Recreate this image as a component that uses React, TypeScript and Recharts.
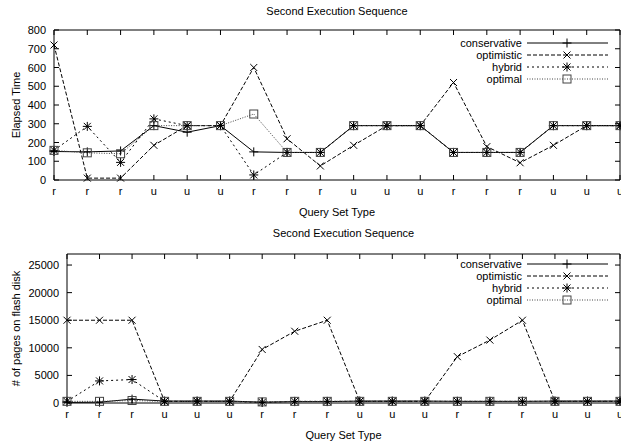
import { LineChart, Line, XAxis, YAxis, ReferenceArea, Label } from 'recharts';

const categories = ['r', 'r', 'r', 'u', 'u', 'u', 'r', 'r', 'r', 'u', 'u', 'u', 'r', 'r', 'r', 'u', 'u', 'u'];
const seriesNames = ['conservative', 'optimistic', 'hybrid', 'optimal'];

// elapsed time
const timeConservative = [152, 150, 155, 290, 255, 290, 150, 147, 147, 290, 290, 290, 147, 147, 147, 290, 290, 290];
const timeOptimistic = [720, 10, 10, 185, 290, 290, 600, 220, 75, 185, 290, 290, 520, 178, 92, 185, 290, 290];
const timeHybrid = [158, 286, 94, 326, 290, 290, 27, 147, 147, 290, 290, 290, 147, 147, 147, 290, 290, 290];
const timeOptimal = [158, 145, 140, 290, 290, 290, 352, 147, 147, 290, 290, 290, 147, 147, 147, 290, 290, 290];
const timeTicks = [0, 100, 200, 300, 400, 500, 600, 700, 800];

// pages on flash disk
const pagesConservative = [100, 150, 700, 350, 350, 350, 150, 250, 250, 350, 350, 350, 300, 300, 300, 350, 350, 350];
const pagesOptimistic = [15000, 15000, 15000, 300, 300, 300, 9700, 13000, 15000, 300, 300, 300, 8400, 11400, 15000, 300, 300, 300];
const pagesHybrid = [300, 4000, 4250, 300, 300, 300, 100, 300, 300, 300, 300, 300, 300, 300, 300, 300, 300, 300];
const pagesOptimal = [300, 300, 450, 300, 300, 300, 200, 300, 300, 300, 300, 300, 300, 300, 300, 300, 300, 300];
const pagesTicks = [0, 5000, 10000, 15000, 20000, 25000];

const FONT = '"Liberation Sans", Arial, Helvetica, sans-serif';
const DASHES = [undefined, '4 2', '2 3', '1 1.5'];
const STROKES = ['#000', '#000', '#000', '#444'];

const build = (cols: number[][]) =>
  categories.map((c, i) => ({
    i,
    conservative: cols[0][i],
    optimistic: cols[1][i],
    hybrid: cols[2][i],
    optimal: cols[3][i],
  }));

const topData = build([timeConservative, timeOptimistic, timeHybrid, timeOptimal]);
const bottomData = build([pagesConservative, pagesOptimistic, pagesHybrid, pagesOptimal]);

const Glyph = ({ kind, cx, cy, color = '#000' }: { kind: number; cx: number; cy: number; color?: string }) => {
  const a = 4.5;
  const b = 3.5;
  const plus = (
    <>
      <line x1={cx - a} y1={cy} x2={cx + a} y2={cy} stroke={color} />
      <line x1={cx} y1={cy - a} x2={cx} y2={cy + a} stroke={color} />
    </>
  );
  const cross = (
    <>
      <line x1={cx - b} y1={cy - b} x2={cx + b} y2={cy + b} stroke={color} />
      <line x1={cx - b} y1={cy + b} x2={cx + b} y2={cy - b} stroke={color} />
    </>
  );
  if (kind === 0) return <g>{plus}</g>;
  if (kind === 1) return <g>{cross}</g>;
  if (kind === 2) return <g>{plus}{cross}</g>;
  return <rect x={cx - 4} y={cy - 4} width={8} height={8} fill="none" stroke={color} />;
};

const dotFor = (kind: number) => (p: any) => {
  if (p.cx == null || p.cy == null) return <g key={`d-${kind}-${p.index}`} />;
  return (
    <g key={`d-${kind}-${p.index}`}>
      <Glyph kind={kind} cx={p.cx} cy={p.cy} color={STROKES[kind]} />
    </g>
  );
};

const XTick = (plotTop: number) => (p: any) => {
  const { x, y, payload } = p;
  return (
    <g>
      <line x1={x} y1={y} x2={x} y2={y - 5} stroke="#000" />
      <line x1={x} y1={plotTop} x2={x} y2={plotTop + 5} stroke="#000" />
      <text x={x} y={y + 15} textAnchor="middle" fontSize={11} fontFamily={FONT} fill="#000">
        {categories[payload.value]}
      </text>
    </g>
  );
};

const YTick = (plotRight: number) => (p: any) => {
  const { x, y, payload } = p;
  return (
    <g>
      <line x1={x} y1={y} x2={x + 5} y2={y} stroke="#000" />
      <line x1={plotRight - 5} y1={y} x2={plotRight} y2={y} stroke="#000" />
      <text x={x - 8} y={y + 4} textAnchor="end" fontSize={11} fontFamily={FONT} fill="#000">
        {payload.value}
      </text>
    </g>
  );
};

const YTitle = (text: string) => (p: any) => {
  const vb = p.viewBox;
  const cx = 16;
  const cy = vb.y + vb.height / 2;
  return (
    <text x={cx} y={cy} transform={`rotate(-90 ${cx} ${cy})`} textAnchor="middle" dominantBaseline="central" fontSize={11} fontFamily={FONT} fill="#000">
      {text}
    </text>
  );
};

const XTitle = (p: any) => {
  const vb = p.viewBox;
  return (
    <text x={vb.x + vb.width / 2} y={vb.y + 36} textAnchor="middle" fontSize={11} fontFamily={FONT} fill="#000">
      Query Set Type
    </text>
  );
};

const LegendBox = ({ top }: { top: number }) => (
  <svg width={200} height={52} style={{ position: 'absolute', left: 420, top }}>
    {seriesNames.map((name, k) => {
      const cy = 6 + k * 12;
      return (
        <g key={name}>
          <text x={102} y={cy + 4} textAnchor="end" fontSize={11} fontFamily={FONT} fill="#000">
            {name}
          </text>
          <line x1={107} y1={cy} x2={188} y2={cy} stroke={STROKES[k]} strokeDasharray={DASHES[k]} />
          <Glyph kind={k} cx={147} cy={cy} color={STROKES[k]} />
        </g>
      );
    })}
  </svg>
);

type PanelProps = {
  data: any[];
  height: number;
  top: number;
  axisWidth: number;
  xHeight: number;
  yMax: number;
  ticks: number[];
  yTitle: string;
};

const Panel = ({ data, height, top, axisWidth, xHeight, yMax, ticks, yTitle }: PanelProps) => {
  const plotRight = 620;
  return (
    <LineChart width={621} height={height} data={data} margin={{ top, right: 1, left: 0, bottom: 0 }}>
      <ReferenceArea x1={0} x2={17} y1={0} y2={yMax} fill="none" stroke="#000" strokeOpacity={1} ifOverflow="visible" />
      <XAxis
        dataKey="i"
        type="number"
        domain={[0, 17]}
        ticks={categories.map((_, i) => i)}
        interval={0}
        height={xHeight}
        tickSize={0}
        tickMargin={0}
        axisLine={false}
        tickLine={false}
        tick={XTick(top)}
      >
        <Label content={XTitle} />
      </XAxis>
      <YAxis
        type="number"
        domain={[0, yMax]}
        ticks={ticks}
        interval={0}
        width={axisWidth}
        tickSize={0}
        tickMargin={0}
        axisLine={false}
        tickLine={false}
        tick={YTick(plotRight)}
      >
        <Label content={YTitle(yTitle)} />
      </YAxis>
      {seriesNames.map((name, k) => (
        <Line
          key={name}
          dataKey={name}
          type="linear"
          stroke={STROKES[k]}
          strokeWidth={1}
          strokeDasharray={DASHES[k]}
          dot={dotFor(k)}
          activeDot={false}
          isAnimationActive={false}
        />
      ))}
    </LineChart>
  );
};

const Title = ({ top, center }: { top: number; center: number }) => (
  <div
    style={{
      position: 'absolute',
      top,
      left: center - 150,
      width: 300,
      textAlign: 'center',
      fontFamily: FONT,
      fontSize: 11,
      lineHeight: '13px',
    }}
  >
    Second Execution Sequence
  </div>
);

export default function App() {
  return (
    <div style={{ position: 'absolute', left: 0, top: 0, width: 621, height: 443, background: '#fff' }}>
      <div style={{ position: 'absolute', left: 0, top: 0 }}>
        <Panel data={topData} height={222} top={30} axisWidth={54} xHeight={42} yMax={800} ticks={timeTicks} yTitle="Elapsed Time" />
      </div>
      <div style={{ position: 'absolute', left: 0, top: 222 }}>
        <Panel data={bottomData} height={221} top={32} axisWidth={67} xHeight={40} yMax={27000} ticks={pagesTicks} yTitle="# of pages on flash disk" />
      </div>
      <Title top={5} center={337} />
      <Title top={227} center={343.5} />
      <LegendBox top={37} />
      <LegendBox top={258} />
    </div>
  );
}
